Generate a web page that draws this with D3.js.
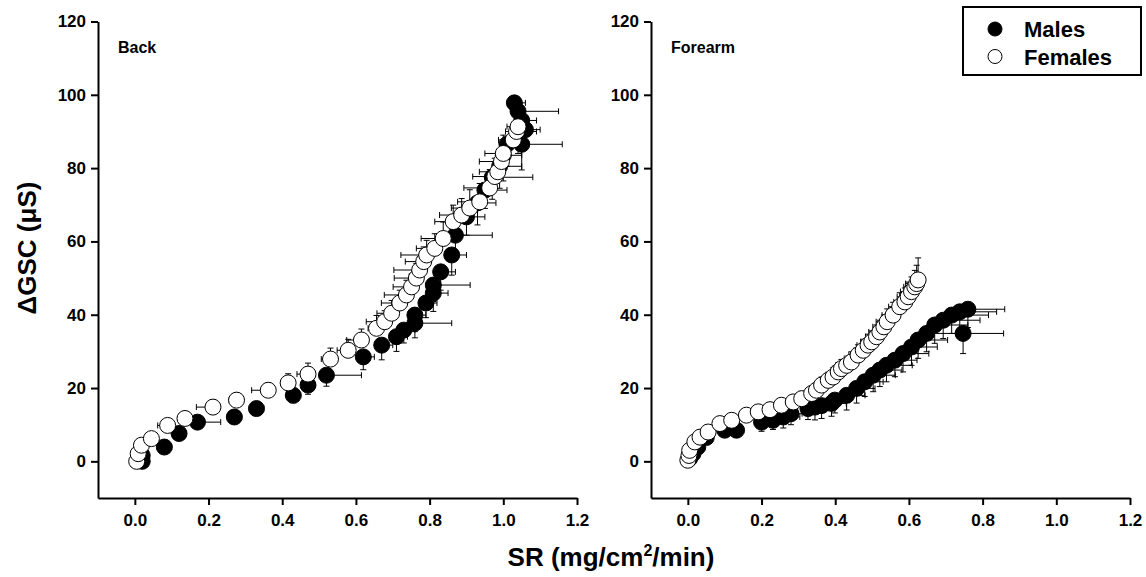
<!DOCTYPE html>
<meta charset="utf-8">
<style>
body { margin: 0; background: #fff; }
text { font-family: "Liberation Sans", Arial, sans-serif; font-weight: bold; fill: #000; }
.axis path, .axis line { stroke: #000; stroke-width: 2px; }
.axis text { font-size: 17px; font-family: "Liberation Sans", Arial, sans-serif; font-weight: bold; }
.err { stroke: #000; stroke-width: 1px; fill: none; }
</style>
<script src="https://cdn.jsdelivr.net/npm/d3@7"></script>
<body>
<script>

// ---- data ----
var xTicks = [0.0, 0.2, 0.4, 0.6, 0.8, 1.0, 1.2];
var yTicks = [0, 20, 40, 60, 80, 100, 120];
var panelNames = ["Back", "Forearm"];
var seriesNames = ["Males", "Females"];

// Back, males (error bars: +x, -y)
var backMaleX    = [0.02, 0.02, 0.08, 0.12, 0.17, 0.27, 0.33, 0.43, 0.47, 0.52, 0.62, 0.67, 0.71, 0.73, 0.76, 0.76, 0.79, 0.81, 0.81, 0.83, 0.86, 0.87, 0.90, 0.93, 0.95, 0.97, 0.99, 1.00, 1.01, 1.05, 1.04, 1.06, 1.05, 1.04, 1.03];
var backMaleY    = [0.0, 1.6, 3.9, 7.6, 10.7, 12.1, 14.4, 18.0, 20.8, 23.5, 28.5, 31.7, 34.0, 35.8, 37.7, 39.9, 43.2, 45.9, 48.1, 51.7, 56.3, 61.7, 66.7, 70.5, 74.0, 77.5, 80.5, 83.5, 86.5, 86.5, 90.0, 90.5, 93.0, 95.5, 97.8];
var backMaleXErr = [0.01, 0.01, 0.02, 0.02, 0.063, 0.02, 0.02, 0.02, 0.02, 0.095, 0.03, 0.03, 0.03, 0.03, 0.10, 0.03, 0.03, 0.04, 0.10, 0.04, 0.04, 0.10, 0.05, 0.05, 0.06, 0.11, 0.06, 0.05, 0.06, 0.11, 0.05, 0.04, 0.04, 0.11, 0.03];
var backMaleYErr = [1, 1, 1.5, 1.5, 1.5, 1.5, 1.5, 2, 2.5, 3, 3.5, 4, 4, 3.5, 4, 4.5, 4, 5, 4.5, 5, 5.5, 5, 5, 6, 5, 6, 6, 7, 6, 7, 6, 5, 5, 5, 3];

// Back, females (error bars: -x, +y)
var backFemaleX    = [0.005, 0.009, 0.018, 0.045, 0.089, 0.136, 0.212, 0.276, 0.362, 0.416, 0.470, 0.531, 0.579, 0.615, 0.656, 0.678, 0.697, 0.719, 0.737, 0.751, 0.764, 0.773, 0.784, 0.792, 0.814, 0.837, 0.864, 0.887, 0.909, 0.936, 0.963, 0.977, 0.985, 0.995, 1.000, 1.027, 1.036, 1.040];
var backFemaleY    = [0, 2.1, 4.4, 6.2, 9.8, 11.7, 14.8, 16.7, 19.4, 21.4, 23.8, 27.9, 30.3, 33.1, 36.3, 38.1, 40.4, 43.2, 45.4, 47.6, 50.0, 52.2, 54.5, 56.3, 58.1, 60.8, 65.4, 67.2, 69.1, 70.8, 74.6, 77.7, 79.0, 81.8, 84.0, 87.7, 90.0, 91.3];
var backFemaleXErr = [0.005, 0.005, 0.01, 0.01, 0.027, 0.02, 0.045, 0.02, 0.045, 0.02, 0.03, 0.025, 0.03, 0.04, 0.023, 0.05, 0.04, 0.05, 0.06, 0.05, 0.06, 0.07, 0.05, 0.07, 0.05, 0.06, 0.05, 0.06, 0.05, 0.06, 0.07, 0.06, 0.05, 0.06, 0.05, 0.04, 0.03, 0.03];
var backFemaleYErr = [0.5, 0.5, 0.8, 1, 1.5, 1.5, 2, 2, 2, 2.5, 3, 3, 3, 3, 3.5, 3, 3.5, 3.5, 4, 3.5, 4, 3.5, 4, 4, 4, 4.5, 4.5, 4.5, 5, 5, 5, 5, 5, 5, 5, 4, 4, 4];

// Forearm, males (error bars: +x, -y)
var foreMaleX    = [0.005, 0.014, 0.027, 0.05, 0.10, 0.132, 0.200, 0.231, 0.259, 0.28, 0.326, 0.345, 0.363, 0.390, 0.399, 0.431, 0.458, 0.480, 0.503, 0.521, 0.539, 0.562, 0.584, 0.607, 0.625, 0.648, 0.670, 0.693, 0.716, 0.738, 0.747, 0.760];
var foreMaleY    = [0.8, 2.1, 3.9, 6.5, 8.5, 8.5, 10.7, 11.2, 12.1, 13.0, 14.4, 14.8, 15.2, 15.8, 16.7, 18.0, 19.9, 21.7, 23.5, 24.9, 26.2, 27.6, 29.4, 31.2, 33.1, 34.9, 37.2, 38.5, 39.9, 40.8, 34.9, 41.5];
var foreMaleXErr = [0.005, 0.01, 0.01, 0.01, 0.015, 0.02, 0.02, 0.02, 0.045, 0.03, 0.03, 0.04, 0.035, 0.04, 0.04, 0.05, 0.05, 0.05, 0.06, 0.06, 0.07, 0.06, 0.07, 0.07, 0.08, 0.08, 0.09, 0.10, 0.10, 0.10, 0.11, 0.10];
var foreMaleYErr = [0.5, 1, 1, 1.5, 2, 2, 2.5, 2.5, 3, 3, 3, 3.5, 3.5, 3.5, 3.5, 4, 4, 4, 4.5, 4.5, 4.5, 4.5, 5, 5, 5, 5, 5, 5, 5, 5.5, 5.5, 5];

// Forearm, females (error bars: -x, +y)
var foreFemaleX    = [0.0, 0.003, 0.005, 0.019, 0.033, 0.055, 0.087, 0.119, 0.159, 0.191, 0.223, 0.254, 0.286, 0.309, 0.336, 0.349, 0.363, 0.381, 0.394, 0.408, 0.417, 0.431, 0.444, 0.462, 0.476, 0.489, 0.499, 0.512, 0.521, 0.532, 0.541, 0.557, 0.575, 0.589, 0.598, 0.607, 0.616, 0.621, 0.625];
var foreFemaleY    = [0.3, 1.6, 3.0, 5.3, 6.6, 8.0, 10.3, 11.2, 12.6, 13.5, 14.1, 15.3, 16.2, 17.1, 18.5, 19.4, 20.8, 22.1, 23.0, 24.4, 25.3, 26.2, 27.1, 29.0, 30.3, 31.7, 32.6, 34.0, 35.3, 36.7, 38.1, 39.9, 42.2, 43.5, 44.9, 46.3, 47.6, 48.5, 49.5];
var foreFemaleXErr = [0.003, 0.003, 0.005, 0.005, 0.008, 0.01, 0.01, 0.01, 0.01, 0.012, 0.012, 0.015, 0.015, 0.015, 0.02, 0.02, 0.02, 0.02, 0.02, 0.02, 0.025, 0.025, 0.025, 0.025, 0.025, 0.03, 0.03, 0.03, 0.03, 0.03, 0.03, 0.03, 0.03, 0.03, 0.03, 0.03, 0.03, 0.03, 0.02];
var foreFemaleYErr = [0.3, 0.5, 0.5, 0.8, 1, 1, 1.2, 1.2, 1.5, 1.5, 1.5, 1.8, 1.8, 2, 2, 2, 2.2, 2.2, 2.5, 2.5, 2.5, 2.5, 2.8, 2.8, 3, 3, 3, 3.2, 3.2, 3.2, 3.5, 3.5, 3.8, 3.8, 4, 4, 4.5, 5, 6];

// ---- layout ----
var width = 1146, height = 577;
var yTop = 21.5, yBottom = 498;
var panels = [
  { name: panelNames[0], left: 98, right: 577,
    male: [backMaleX, backMaleY, backMaleXErr, backMaleYErr],
    female: [backFemaleX, backFemaleY, backFemaleXErr, backFemaleYErr] },
  { name: panelNames[1], left: 651, right: 1130,
    male: [foreMaleX, foreMaleY, foreMaleXErr, foreMaleYErr],
    female: [foreFemaleX, foreFemaleY, foreFemaleXErr, foreFemaleYErr] }
];
var r = 8, cap = 3;

var svg = d3.select("body").append("svg")
    .attr("width", width)
    .attr("height", height);

function rows(arrs) {
  return arrs[0].map(function(x, i) {
    return { x: x, y: arrs[1][i], xe: arrs[2][i], ye: arrs[3][i] };
  });
}

panels.forEach(function(p) {
  var x = d3.scaleLinear().domain([-0.1, 1.2]).range([p.left, p.right]);
  var y = d3.scaleLinear().domain([-10, 120]).range([yBottom, yTop]);

  svg.append("g")
      .attr("class", "axis")
      .attr("transform", "translate(0," + yBottom + ")")
      .call(d3.axisBottom(x).tickValues(xTicks).tickFormat(d3.format(".1f")).tickSize(7).tickSizeOuter(0).tickPadding(9));

  svg.append("g")
      .attr("class", "axis")
      .attr("transform", "translate(" + p.left + ",0)")
      .call(d3.axisLeft(y).tickValues(yTicks).tickSize(7).tickSizeOuter(0).tickPadding(5));

  svg.append("text")
      .attr("x", p.left + 20)
      .attr("y", 53)
      .style("font-size", "16px")
      .text(p.name);

  // series: males first, then females on top
  [[p.male, 1, -1, "#000"], [p.female, -1, 1, "#fff"]].forEach(function(s) {
    var d = rows(s[0]), dx = s[1], dy = s[2];
    var g = svg.append("g");
    // horizontal error bars
    g.selectAll(".hx").data(d).enter().append("path")
        .attr("class", "err")
        .attr("d", function(v) {
          var x0 = x(v.x), x1 = x(v.x + dx * v.xe), yy = y(v.y);
          return "M" + x0 + "," + yy + "H" + x1 + "M" + x1 + "," + (yy - cap) + "V" + (yy + cap);
        });
    // vertical error bars
    g.selectAll(".vy").data(d).enter().append("path")
        .attr("class", "err")
        .attr("d", function(v) {
          var y0 = y(v.y), y1 = y(v.y + dy * v.ye), xx = x(v.x);
          return "M" + xx + "," + y0 + "V" + y1 + "M" + (xx - cap) + "," + y1 + "H" + (xx + cap);
        });
    g.selectAll("circle").data(d).enter().append("circle")
        .attr("cx", function(v) { return x(v.x); })
        .attr("cy", function(v) { return y(v.y); })
        .attr("r", r)
        .attr("fill", s[3])
        .attr("stroke", "#000")
        .attr("stroke-width", 1);
  });
});

// axis titles
svg.append("text")
    .attr("transform", "translate(36,248) rotate(-90)")
    .attr("text-anchor", "middle")
    .style("font-size", "26px")
    .text("\u0394GSC (\u03bcS)");

var xt = svg.append("text")
    .attr("x", 611)
    .attr("y", 566)
    .attr("text-anchor", "middle")
    .style("font-size", "26px");
xt.append("tspan").text("SR (mg/cm");
xt.append("tspan").attr("dy", -10).style("font-size", "16px").text("2");
xt.append("tspan").attr("dy", 10).text("/min)");

// legend
var legend = svg.append("g");
legend.append("rect")
    .attr("x", 963).attr("y", 7).attr("width", 178).attr("height", 68)
    .attr("fill", "#fff").attr("stroke", "#000").attr("stroke-width", 2);
seriesNames.forEach(function(n, i) {
  legend.append("circle")
      .attr("cx", 995).attr("cy", 29 + i * 27.5).attr("r", 7)
      .attr("fill", i === 0 ? "#000" : "#fff")
      .attr("stroke", "#000").attr("stroke-width", 1);
  legend.append("text")
      .attr("x", 1024).attr("y", 37 + i * 27.5)
      .style("font-size", "22px")
      .text(n);
});

</script>
</body>
